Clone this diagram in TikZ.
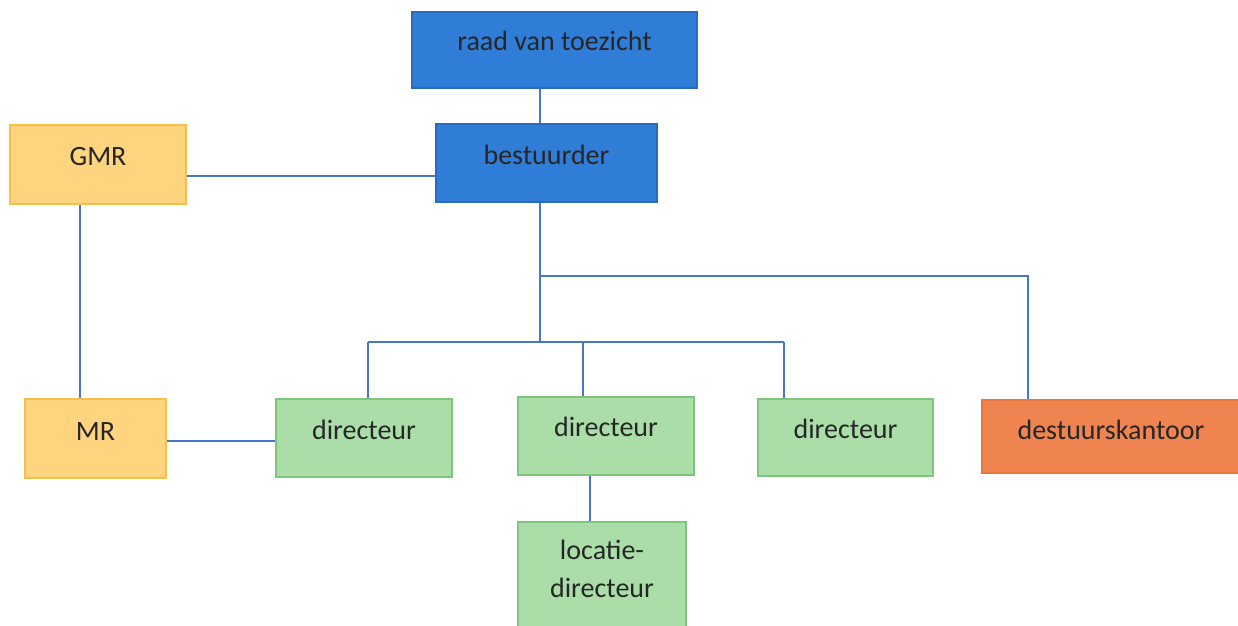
\documentclass[tikz,border=0pt]{standalone}
\usepackage{fontspec}
\setmainfont{Carlito}
\definecolor{bluefill}{HTML}{2F7DD6}
\definecolor{blueedge}{HTML}{2A6BC0}
\definecolor{yelfill}{HTML}{FFD47E}
\definecolor{yeledge}{HTML}{F5C04A}
\definecolor{grnfill}{HTML}{AADDA8}
\definecolor{grnedge}{HTML}{7EC67B}
\definecolor{orgfill}{HTML}{EF8450}
\definecolor{orgedge}{HTML}{E8763F}
\definecolor{linec}{HTML}{4A76C8}
\tikzset{
  box/.style={draw, line width=1.2pt, inner sep=0pt, text=black!85,
    font=\fontsize{28}{34}\selectfont, align=center},
  bluebox/.style={box, fill=bluefill, draw=blueedge},
  yelbox/.style={box, fill=yelfill, draw=yeledge},
  grnbox/.style={box, fill=grnfill, draw=grnedge},
  orgbox/.style={box, fill=orgfill, draw=orgedge},
  conn/.style={draw=linec, line width=1.6pt},
}
\begin{document}
\begin{tikzpicture}[x=1pt,y=-1pt]
\useasboundingbox (0,0) rectangle (1238,625);
\fill[white] (0,0) rectangle (1238,625);
% boxes
\node[bluebox, minimum width=285pt, minimum height=76pt] (raad) at (554.5,50) {};
\node[bluebox, minimum width=221pt, minimum height=78pt] (best) at (546.5,163) {};
\node[yelbox, minimum width=176pt, minimum height=79pt] (gmr) at (98,164.5) {};
\node[yelbox, minimum width=141pt, minimum height=79pt] (mr) at (95.5,438.5) {};
\node[grnbox, minimum width=176pt, minimum height=78pt] (dir1) at (364,438) {};
\node[grnbox, minimum width=176pt, minimum height=78pt] (dir2) at (606,436) {};
\node[grnbox, minimum width=175pt, minimum height=77pt] (dir3) at (845.5,437.5) {};
\node[orgbox, minimum width=258pt, minimum height=73pt] (bk) at (1111,436.5) {};
\node[grnbox, minimum width=168pt, minimum height=110pt] (loc) at (602,577) {};
% texts
\node[box, draw=none] (traad) at (554.5,41) {raad van toezicht};
\node[box, draw=none] (tbest) at (546.5,155) {bestuurder};
\node[box, draw=none] (tgmr) at (98,157) {GMR};
\node[box, draw=none] (tmr) at (95.5,432) {MR};
\node[box, draw=none] (tdir1) at (364,430) {directeur};
\node[box, draw=none] (tdir2) at (606,427) {directeur};
\node[box, draw=none] (tdir3) at (845.5,429) {directeur};
\node[box, draw=none] (tbk) at (1111,430) {destuurskantoor};
\node[box, draw=none, font=\fontsize{28}{38}\selectfont] (tloc) at (602,569) {locatie-\\directeur};
% junctions
\coordinate (j1) at (540,276);
\coordinate (j1r) at (1028,276);
\coordinate (j2) at (540,342);
\coordinate (j2l) at (368,342);
\coordinate (j2m) at (583,342);
\coordinate (j2r) at (784,342);
% connectors
\draw[conn] (raad.south -| 540,0) -- (best.north -| 540,0);
\draw[conn] (gmr.east |- 0,176) -- (best.west |- 0,176);
\draw[conn] (best.south -| 540,0) -- (j2);
\draw[conn] (j1) -- (j1r) -- (bk.north -| j1r);
\draw[conn] (j2l) -- (j2r);
\draw[conn] (j2l) -- (dir1.north -| j2l);
\draw[conn] (j2m) -- (dir2.north -| j2m);
\draw[conn] (j2r) -- (dir3.north -| j2r);
\draw[conn] (gmr.south -| 80,0) -- (mr.north -| 80,0);
\draw[conn] (mr.east |- 0,441) -- (dir1.west |- 0,441);
\draw[conn] (dir2.south -| 590,0) -- (loc.north -| 590,0);
\end{tikzpicture}
\end{document}
